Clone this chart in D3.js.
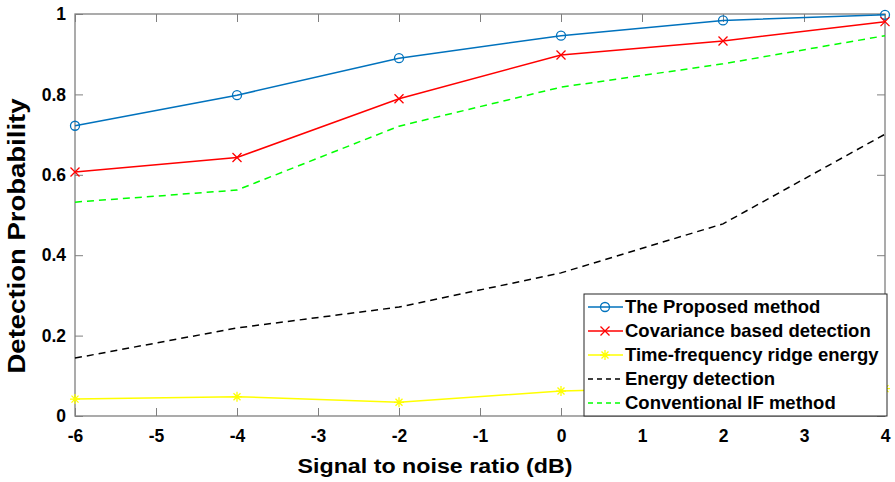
<!DOCTYPE html>
<html>
<head>
<meta charset="utf-8">
<script src="https://cdn.jsdelivr.net/npm/d3@7"></script>
<style>
  body { margin: 0; background: #fff; }
  text { font-family: "Liberation Sans", Arial, sans-serif; font-weight: bold; }
</style>
</head>
<body>
<div id="chart"></div>
<script>
// data
var snr = [-6, -4, -2, 0, 2, 4];
var proposed = [0.722, 0.798, 0.890, 0.946, 0.984, 0.998];
var covariance = [0.607, 0.643, 0.789, 0.898, 0.933, 0.981];
var ridgeEnergy = [0.042, 0.048, 0.034, 0.062, 0.072, 0.068];
var energyDet = [0.144, 0.219, 0.271, 0.356, 0.478, 0.701];
var conventionalIF = [0.532, 0.562, 0.721, 0.818, 0.876, 0.946];
var seriesNames = ["The Proposed method", "Covariance based detection", "Time-frequency ridge energy", "Energy detection", "Conventional IF method"];
var xTicks = [-6, -5, -4, -3, -2, -1, 0, 1, 2, 3, 4];
var yTicks = [0, 0.2, 0.4, 0.6, 0.8, 1];

var width = 895, height = 482;
var margin = { top: 14, right: 10, bottom: 66, left: 75 };

var svg = d3.select('#chart').append('svg')
  .attr('width', width)
  .attr('height', height);

var x = d3.scaleLinear().domain([-6, 4]).range([margin.left, width - margin.right]);
var y = d3.scaleLinear().domain([0, 1]).range([height - margin.bottom, margin.top]);

var axisColor = '#7f7f7f';

// box
svg.append('rect')
  .attr('x', x(-6)).attr('y', y(1))
  .attr('width', x(4) - x(-6)).attr('height', y(0) - y(1))
  .attr('fill', 'none').attr('stroke', axisColor).attr('stroke-width', 1.3);

// axes with inward ticks
var xAxis = svg.append('g').attr('transform', 'translate(0,' + y(0) + ')')
  .call(d3.axisBottom(x).tickValues(xTicks).tickSize(-8).tickPadding(14).tickFormat(function(d) { return String(d); }));
var xTop = svg.append('g').attr('transform', 'translate(0,' + y(1) + ')')
  .call(d3.axisTop(x).tickValues(xTicks).tickSize(-8).tickFormat(''));
var yAxis = svg.append('g').attr('transform', 'translate(' + x(-6) + ',0)')
  .call(d3.axisLeft(y).tickValues(yTicks).tickSize(-8).tickPadding(9).tickFormat(function(d) { return d === 0 || d === 1 ? String(d) : d.toFixed(1); }));
var yRight = svg.append('g').attr('transform', 'translate(' + x(4) + ',0)')
  .call(d3.axisRight(y).tickValues(yTicks).tickSize(-8).tickFormat(''));

[xAxis, xTop, yAxis, yRight].forEach(function(g) {
  g.select('.domain').remove();
  g.selectAll('.tick line').attr('stroke', axisColor);
  g.selectAll('.tick text').attr('fill', '#000').style('font-size', '17.5px').style('font-family', '"Liberation Sans", Arial, sans-serif').style('font-weight', 'bold');
});

// axis titles
svg.append('text')
  .attr('x', 435).attr('y', 473)
  .attr('text-anchor', 'middle')
  .attr('textLength', 275).attr('lengthAdjust', 'spacingAndGlyphs')
  .style('font-size', '19.5px')
  .text('Signal to noise ratio (dB)');

svg.append('text')
  .attr('transform', 'translate(25,236) rotate(-90)')
  .attr('text-anchor', 'middle')
  .attr('textLength', 275).attr('lengthAdjust', 'spacingAndGlyphs')
  .style('font-size', '23px')
  .text('Detection Probability');

var series = [
  { name: seriesNames[0], values: proposed, color: '#0072BD', dash: null, marker: 'circle' },
  { name: seriesNames[1], values: covariance, color: '#FF0000', dash: null, marker: 'cross' },
  { name: seriesNames[2], values: ridgeEnergy, color: '#FFFF00', dash: null, marker: 'star' },
  { name: seriesNames[3], values: energyDet, color: '#000000', dash: '7,5', marker: null },
  { name: seriesNames[4], values: conventionalIF, color: '#00FF00', dash: '7,5', marker: null }
];

var line = d3.line()
  .x(function(d, i) { return x(snr[i]); })
  .y(function(d) { return y(d); });

function drawMarker(g, type, cx, cy, color) {
  if (type === 'circle') {
    g.append('circle').attr('cx', cx).attr('cy', cy).attr('r', 4.5)
      .attr('fill', 'none').attr('stroke', color).attr('stroke-width', 1.3);
  } else if (type === 'cross') {
    var s = 4.5;
    g.append('path').attr('d', 'M' + (cx - s) + ',' + (cy - s) + 'L' + (cx + s) + ',' + (cy + s) + 'M' + (cx - s) + ',' + (cy + s) + 'L' + (cx + s) + ',' + (cy - s))
      .attr('stroke', color).attr('stroke-width', 1.3);
  } else if (type === 'star') {
    var r = 5;
    var d = 'M' + (cx - r) + ',' + cy + 'L' + (cx + r) + ',' + cy + 'M' + cx + ',' + (cy - r) + 'L' + cx + ',' + (cy + r);
    var k = r * 0.7;
    d += 'M' + (cx - k) + ',' + (cy - k) + 'L' + (cx + k) + ',' + (cy + k) + 'M' + (cx - k) + ',' + (cy + k) + 'L' + (cx + k) + ',' + (cy - k);
    g.append('path').attr('d', d).attr('stroke', color).attr('stroke-width', 1.3);
  }
}

series.forEach(function(s) {
  var g = svg.append('g');
  g.append('path')
    .datum(s.values)
    .attr('d', line)
    .attr('fill', 'none')
    .attr('stroke', s.color)
    .attr('stroke-width', 1.5)
    .attr('stroke-dasharray', s.dash);
  if (s.marker) {
    s.values.forEach(function(v, i) { drawMarker(g, s.marker, x(snr[i]), y(v), s.color); });
  }
});

// legend
var lg = svg.append('g');
lg.append('rect')
  .attr('x', 584).attr('y', 294)
  .attr('width', 303).attr('height', 122)
  .attr('fill', '#fff').attr('stroke', '#262626').attr('stroke-width', 1);

series.forEach(function(s, i) {
  var cy = 307 + i * 24;
  var g = lg.append('g');
  g.append('line')
    .attr('x1', 588).attr('x2', 623).attr('y1', cy).attr('y2', cy)
    .attr('stroke', s.color).attr('stroke-width', 1.3)
    .attr('stroke-dasharray', s.dash ? '5,4' : null);
  if (s.marker) drawMarker(g, s.marker, 605, cy, s.color);
  g.append('text')
    .attr('x', 625).attr('y', cy).attr('dy', '0.35em')
    .style('font-size', '18.5px')
    .text(s.name);
});
</script>
</body>
</html>
